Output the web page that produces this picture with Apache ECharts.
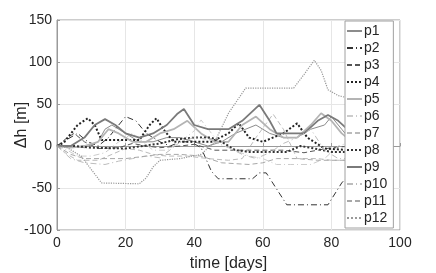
<!DOCTYPE html>
<html>
<head>
<meta charset="utf-8">
<script src="https://cdn.jsdelivr.net/npm/echarts@6/dist/echarts.min.js"></script>
<style>html,body{margin:0;padding:0;background:#fff;}#c{width:436px;height:273px;}</style>
</head>
<body>
<div id="c"></div>
<script>
const xTicks = [0, 20, 40, 60, 80, 100];
const yTicks = [-100, -50, 0, 50, 100, 150];
const names = ['p1','p2','p3','p4','p5','p6','p7','p8','p9','p10','p11','p12'];

const p1 = [[0,0],[4,0],[8,-2],[12,5],[14,20],[16,25],[20,15],[24,5],[28,5],[32,10],[36,10],[40,5],[44,0],[48,5],[52,15],[55,20],[58,25],[62,15],[66,10],[70,10],[74,20],[78,25],[80,35],[83,20],[86,5]];
const p2 = [[0,0],[3,8],[6,15],[9,5],[12,0],[15,10],[20,35],[23,30],[26,15],[30,5],[33,0],[36,5],[39,5],[42,-2],[45,-30],[47,-39],[57,-39],[59,-32],[61,-32],[67,-70],[79,-70],[83,-44],[86,-30]];
const p3 = [[0,0],[3,10],[5,15],[8,5],[12,-3],[18,-2],[22,3],[26,0],[30,-2],[36,0],[40,2],[46,-5],[52,-5],[58,-5],[62,-5],[66,-5],[72,-8],[76,-5],[80,-2],[86,0]];
const p4 = [[0,0],[2,4],[6,25],[9,33],[11,25],[13,7],[24,7],[27,25],[29,33],[31,20],[34,5],[40,5],[45,5],[50,15],[53,27],[56,10],[60,5],[66,15],[70,27],[73,10],[78,-3],[86,-5]];
const p5 = [[0,0],[4,-2],[8,0],[12,5],[15,20],[18,15],[22,5],[26,5],[30,15],[34,20],[38,30],[42,15],[46,5],[50,5],[54,25],[58,35],[62,20],[66,10],[70,10],[74,25],[77,39],[80,30],[83,15],[86,5]];
const p6 = [[0,0],[3,-5],[6,-12],[10,-12],[14,-8],[18,5],[22,15],[25,5],[28,-5],[32,-5],[36,5],[40,18],[42,31],[46,10],[52,-5],[56,-12],[60,-15],[64,-22],[68,-22],[74,-22],[78,-15],[82,0],[86,5]];
const p7 = [[0,0],[3,-10],[6,-17],[12,-17],[16,-10],[20,-3],[24,-5],[28,-10],[32,-12],[38,-12],[44,-15],[50,-17],[54,-15],[58,10],[63,38],[66,20],[70,-15],[76,-15],[80,-17],[86,-17]];
const p8 = [[0,0],[5,0],[10,-2],[20,-3],[30,3],[35,8],[40,10],[45,10],[48,5],[52,-5],[56,-7],[67,-7],[71,0],[75,-3],[80,-7],[86,-7]];
const p9 = [[0,0],[4,0],[8,10],[11,25],[14,32],[17,25],[20,15],[24,10],[28,15],[32,25],[35,38],[37,44],[40,25],[44,20],[50,20],[54,30],[59,49],[62,30],[64,15],[72,15],[76,30],[79,37],[82,30],[86,15]];
const p10 = [[0,0],[4,-15],[8,-20],[14,-22],[18,-18],[22,-15],[26,-12],[30,-14],[36,5],[40,10],[44,8],[50,-2],[54,-10],[58,-15],[62,-8],[66,3],[70,10],[74,20],[78,-5],[82,-15],[86,-15]];
const p11 = [[0,0],[4,-10],[8,-15],[14,-15],[20,-15],[26,-12],[30,-10],[36,-10],[42,-12],[48,-20],[56,-22],[60,-20],[64,-15],[70,-15],[76,-17],[82,-17],[86,-17]];
const p12 = [[0,0],[3,-2],[7,-12],[10,-28],[13,-44],[24,-45],[26,-38],[28,-25],[30,-17],[36,-15],[42,-10],[46,5],[50,39],[55,69],[69,69],[72,85],[75,102],[77,90],[79,67],[82,60],[86,56]];

const data = [p1,p2,p3,p4,p5,p6,p7,p8,p9,p10,p11,p12];
const styles = [
  {color:'#8c8c8c', width:1, type:'solid'},
  {color:'#333333', width:1, type:[6,3,1,3]},
  {color:'#555555', width:1, type:[5,3]},
  {color:'#222222', width:2, type:'dotted'},
  {color:'#b4b4b4', width:1.8, type:'solid'},
  {color:'#cccccc', width:1, type:[6,3,1,3]},
  {color:'#bbbbbb', width:1, type:[5,3]},
  {color:'#333333', width:2, type:'dotted'},
  {color:'#7a7a7a', width:1.8, type:'solid'},
  {color:'#bdbdbd', width:1, type:[6,3,1,3]},
  {color:'#a8a8a8', width:1, type:[5,3]},
  {color:'#999999', width:1.2, type:'dotted'}
];

const chart = echarts.init(document.getElementById('c'), null, {renderer:'canvas'});
const font = 'Liberation Sans, Arial, Helvetica, sans-serif';
chart.setOption({
  animation:false,
  backgroundColor:'#fff',
  grid:{left:57, right:36, top:20, bottom:43, show:true, borderColor:'#9a9a9a', borderWidth:1, containLabel:false, outerBoundsMode:'none'},
  legend:{
    orient:'vertical', left:345, top:21,
    data:names.map((n,i)=>({name:n, itemStyle:{opacity:0, borderWidth:0}})),
    itemWidth:15, itemHeight:14, itemGap:3,
    padding:[3,6,3,1],
    itemStyle:{opacity:0, borderWidth:0},
    backgroundColor:'#fff', borderColor:'#a0a0a0', borderWidth:1,
    textStyle:{fontFamily:font, fontSize:14, color:'#262626', padding:[0,0,0,-3]},
    z:10
  },
  xAxis:{
    type:'value', min:xTicks[0], max:xTicks[xTicks.length-1], interval:20,
    name:'time [days]', nameLocation:'middle', nameGap:26, nameMoveOverlap:false,
    nameTextStyle:{fontFamily:font, fontSize:16, color:'#262626'},
    axisLine:{show:true, lineStyle:{color:'#9a9a9a'}},
    axisTick:{show:true, inside:true, length:3, lineStyle:{color:'#9a9a9a'}},
    axisLabel:{fontFamily:font, fontSize:14, color:'#262626', margin:6},
    splitLine:{show:true, lineStyle:{color:'#e6e6e6'}}
  },
  yAxis:{
    type:'value', min:yTicks[0], max:yTicks[yTicks.length-1], interval:50,
    name:'Δh [m]', nameLocation:'middle', nameGap:27, nameRotate:90, nameMoveOverlap:false,
    nameTextStyle:{fontFamily:font, fontSize:16, color:'#262626'},
    axisLine:{show:true, lineStyle:{color:'#9a9a9a'}},
    axisTick:{show:true, inside:true, length:3, lineStyle:{color:'#9a9a9a'}},
    axisLabel:{fontFamily:font, fontSize:14, color:'#262626', margin:5},
    splitLine:{show:true, lineStyle:{color:'#e6e6e6'}}
  },
  series: names.map((n,i)=>({
    name:n, type:'line', data:data[i], symbol:'none', showSymbol:false,
    lineStyle:{color:styles[i].color, width:styles[i].width, type:styles[i].type},
    itemStyle:{color:styles[i].color},
    z:2
  }))
});
</script>
</body>
</html>
